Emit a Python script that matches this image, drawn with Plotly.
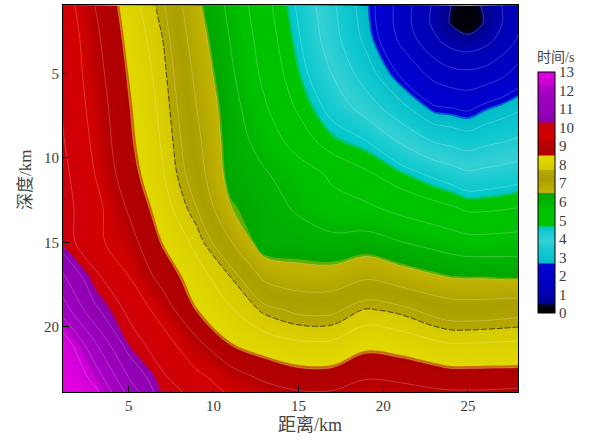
import plotly.graph_objects as go

# distance (km) and depth (km) grid nodes
distance_km = [1, 3, 5, 7, 9, 11, 13, 15, 17, 19, 21, 23, 24, 25, 26, 27, 28]
depth_km = [1, 2, 3, 5, 7, 9, 11, 13, 15, 17, 19, 21, 23, 24]

# travel time (s), one row per depth node
t_d01 = [9.84, 9.00, 8.24, 7.56, 6.60, 5.87, 5.17, 4.43, 3.59, 2.74, 1.82, 0.92, 0.50, 0.26, 0.58, 1.00, 1.45]
t_d02 = [9.91, 9.07, 8.29, 7.63, 6.67, 5.92, 5.22, 4.49, 3.65, 2.78, 1.80, 0.89, 0.45, 0.15, 0.54, 0.98, 1.44]
t_d03 = [9.97, 9.13, 8.34, 7.70, 6.74, 5.98, 5.28, 4.55, 3.71, 2.87, 1.91, 1.09, 0.77, 0.65, 0.82, 1.16, 1.56]
t_d05 = [9.98, 9.22, 8.44, 7.80, 6.88, 6.08, 5.38, 4.70, 3.98, 3.24, 2.43, 1.83, 1.65, 1.60, 1.68, 1.88, 2.20]
t_d07 = [10.00, 9.32, 8.52, 7.88, 7.00, 6.20, 5.56, 4.92, 4.33, 3.76, 3.15, 2.54, 2.48, 2.40, 2.60, 2.75, 2.92]
t_d09 = [10.07, 9.40, 8.58, 7.95, 7.12, 6.25, 5.80, 5.27, 4.75, 4.50, 3.94, 3.46, 3.36, 3.25, 3.38, 3.47, 3.57]
t_d11 = [10.17, 9.50, 8.70, 8.03, 7.25, 6.30, 6.05, 5.76, 5.42, 5.09, 4.75, 4.41, 4.27, 4.10, 4.16, 4.22, 4.30]
t_d13 = [10.20, 9.68, 8.94, 8.21, 7.51, 6.52, 6.20, 5.94, 5.67, 5.60, 5.37, 5.18, 5.07, 4.93, 4.93, 4.97, 5.02]
t_d15 = [10.28, 9.62, 9.22, 8.44, 7.88, 7.04, 6.20, 6.22, 6.14, 6.20, 6.02, 5.85, 5.76, 5.68, 5.68, 5.70, 5.72]
t_d17 = [11.12, 10.10, 9.50, 8.80, 8.18, 7.69, 6.88, 6.68, 6.68, 6.92, 6.72, 6.54, 6.46, 6.44, 6.44, 6.41, 6.41]
t_d19 = [11.85, 10.60, 9.89, 9.29, 8.47, 8.04, 7.63, 7.41, 7.41, 7.74, 7.62, 7.35, 7.26, 7.25, 7.26, 7.30, 7.33]
t_d21 = [12.94, 11.56, 10.25, 9.71, 9.14, 8.47, 8.20, 8.07, 8.07, 8.32, 8.24, 8.08, 8.01, 8.01, 8.03, 8.04, 8.07]
t_d23 = [13.20, 12.32, 11.00, 10.07, 9.61, 9.27, 8.90, 8.68, 8.68, 8.96, 8.88, 8.74, 8.68, 8.68, 8.68, 8.68, 8.68]
t_d24 = [13.50, 12.70, 11.40, 10.22, 9.89, 9.45, 9.30, 9.10, 9.10, 9.35, 9.28, 9.15, 9.12, 9.12, 9.12, 9.15, 9.20]

travel_time = [t_d01, t_d02, t_d03, t_d05, t_d07, t_d09, t_d11, t_d13,
               t_d15, t_d17, t_d19, t_d21, t_d23, t_d24]

colorbar_ticks = list(range(0, 14))
x_ticks = [5, 10, 15, 20, 25]
y_ticks = [5, 10, 15, 20]

ZMAX = 13.0
stops = [
    (0.0, "#000000"), (0.42, "#000010"), (0.52, "#00008c"), (1.0, "#0000b4"),
    (2.65, "#0000d4"), (2.70, "#00bcc8"), (3.3, "#10c8d0"), (3.9, "#34d0d4"),
    (4.65, "#00c8cc"), (4.70, "#00c400"), (5.6, "#00c200"),
    (6.45, "#00a600"), (6.50, "#c2b400"), (7.2, "#aa9e00"), (7.68, "#b6a800"),
    (7.72, "#d6ca00"), (8.45, "#e2d800"), (8.50, "#ae0000"), (9.1, "#b60000"),
    (9.45, "#d20000"), (10.25, "#cc000c"), (10.30, "#8c00b0"), (11.5, "#9c00be"),
    (12.25, "#b000c8"), (12.30, "#c800d2"), (13.0, "#e000e0"),
]
colorscale = [[v / ZMAX, c] for v, c in stops]

FONT = "Liberation Serif, Noto Sans CJK SC, serif"

fig = go.Figure()
# colour fill (fine bands give a near-continuous shading)
fig.add_trace(go.Contour(
    x=distance_km, y=depth_km, z=travel_time,
    zmin=0, zmax=ZMAX, zauto=False,
    colorscale=colorscale,
    contours=dict(coloring="fill", start=0, end=ZMAX, size=0.05, showlabels=False),
    line=dict(width=0),
    hoverinfo="skip",
    colorbar=dict(
        x=1.044, xanchor="left", xpad=0, y=0.5155, yanchor="middle", ypad=0,
        len=241, lenmode="pixels", thickness=17, thicknessmode="pixels",
        outlinecolor="black", outlinewidth=1,
        tickmode="array", tickvals=colorbar_ticks, ticks="",
        tickfont=dict(family=FONT, size=15, color="#3a3a3a"),
    ),
))
# faint white isochrones every 0.5 s
fig.add_trace(go.Contour(
    x=distance_km, y=depth_km, z=travel_time,
    showscale=False, hoverinfo="skip",
    contours=dict(coloring="none", start=0.5, end=12.5, size=0.5),
    line=dict(color="rgba(255,255,255,0.28)", width=0.8),
))
# dark dashed isochrone
fig.add_trace(go.Contour(
    x=distance_km, y=depth_km, z=travel_time,
    showscale=False, hoverinfo="skip",
    contours=dict(coloring="none", start=7.7, end=7.7, size=1),
    line=dict(color="rgba(20,20,20,0.8)", width=0.9, dash="6px,2px"),
))

axis_common = dict(
    showline=True, linecolor="black", linewidth=1, mirror=True,
    ticks="inside", ticklen=6, tickwidth=1, tickcolor="black",
    showgrid=False, zeroline=False,
    tickfont=dict(family=FONT, size=15, color="#3a3a3a"),
)
fig.update_xaxes(range=[1.12, 27.95], tickvals=x_ticks, **axis_common)
fig.update_yaxes(range=[23.85, 0.96], tickvals=y_ticks, **axis_common)

fig.update_layout(
    width=599, height=443,
    margin=dict(l=63, r=81, t=5, b=51),
    paper_bgcolor="white", plot_bgcolor="white",
    showlegend=False,
    annotations=[
        dict(text="距离/km", xref="paper", yref="paper", x=0.543, y=-0.085,
             xanchor="center", yanchor="middle", showarrow=False,
             font=dict(family=FONT, size=18, color="#444444")),
        dict(text="深度/km", xref="paper", yref="paper", x=-0.081, y=0.548,
             xanchor="center", yanchor="middle", showarrow=False, textangle=-90,
             font=dict(family=FONT, size=17, color="#444444")),
        dict(text="时间/s", xref="paper", yref="paper", x=1.082, y=0.865,
             xanchor="center", yanchor="middle", showarrow=False,
             font=dict(family=FONT, size=14, color="#444444")),
    ],
)

fig.write_html("out.html", config={"displayModeBar": False},
               post_script="document.body.style.margin='0';")
